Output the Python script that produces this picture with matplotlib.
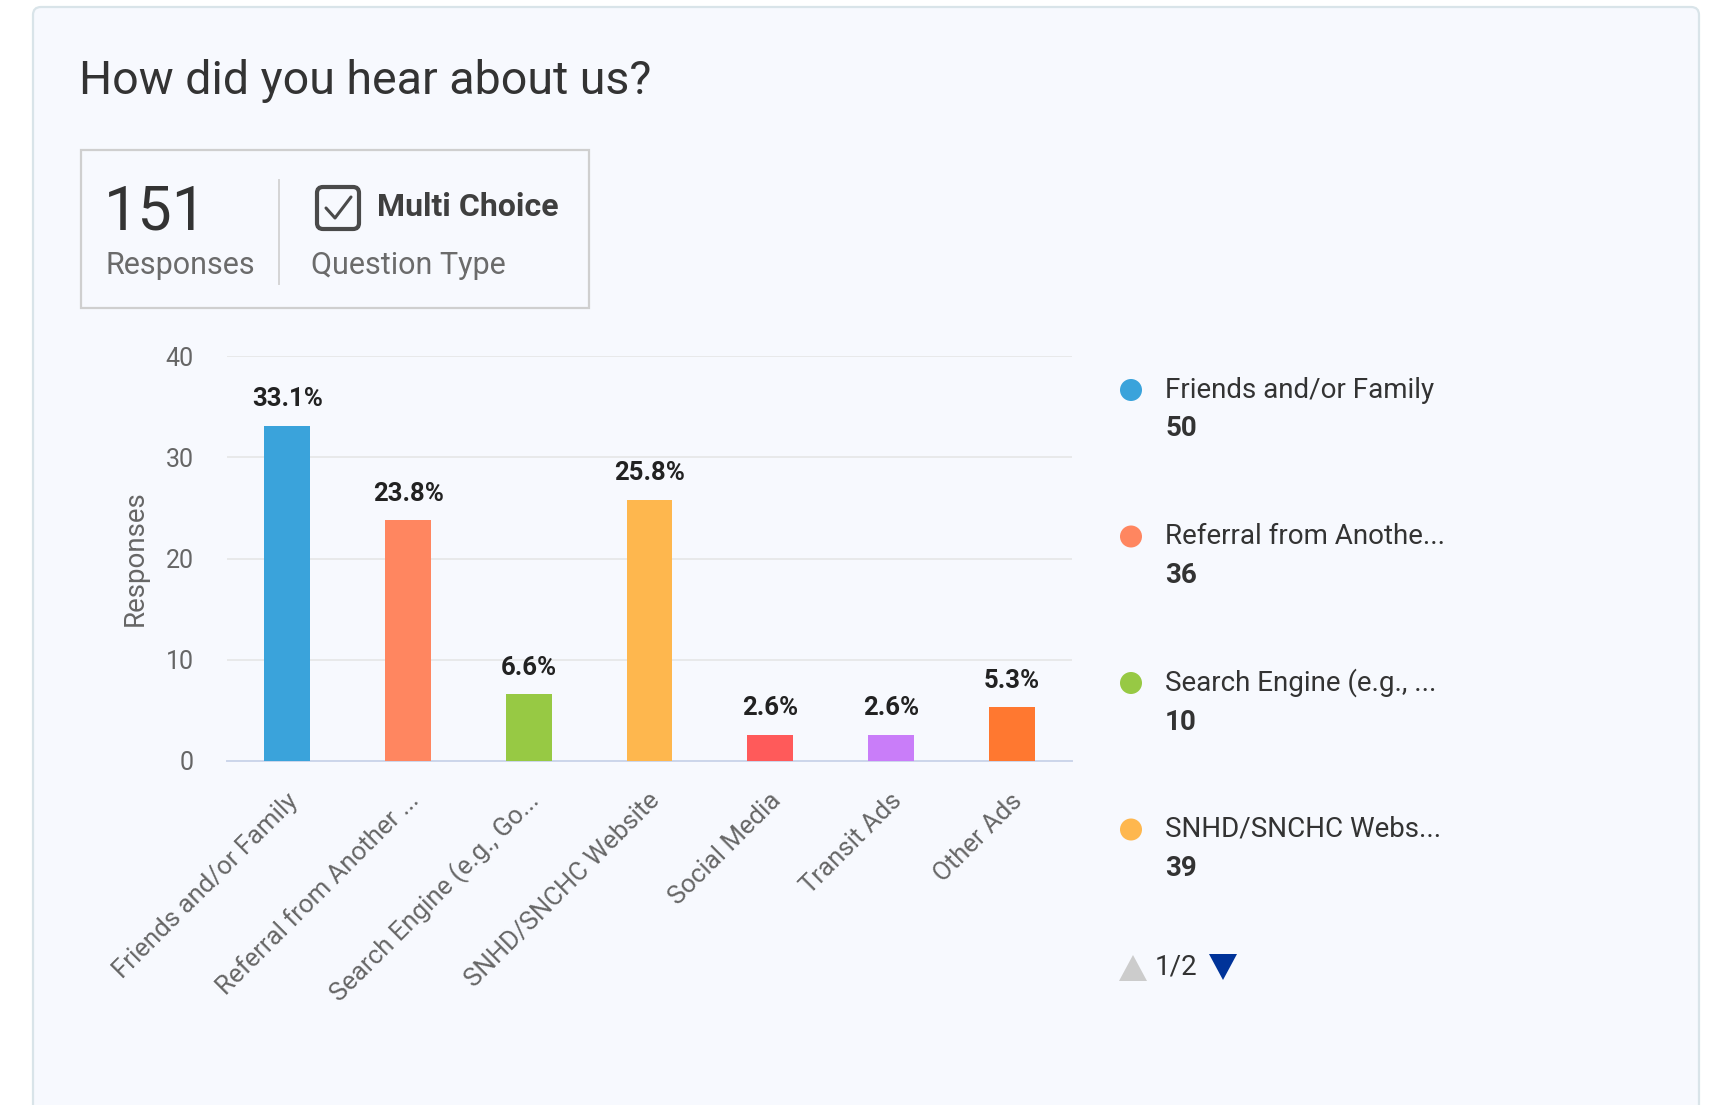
import matplotlib
matplotlib.use("Agg")
import matplotlib.pyplot as plt
import matplotlib.transforms as mtransforms
from matplotlib.patches import FancyBboxPatch, Rectangle, Polygon, Circle

plt.rcParams["font.family"] = ["Roboto", "DejaVu Sans"]

# survey results
categories = ["Friends and/or Family", "Referral from Another ...",
              "Search Engine (e.g., Go...", "SNHD/SNCHC Website",
              "Social Media", "Transit Ads", "Other Ads"]
percents = [33.1, 23.8, 6.6, 25.8, 2.6, 2.6, 5.3]
counts = [50, 36, 10, 39, 4, 4, 8]
legend_names = ["Friends and/or Family", "Referral from Anothe...",
                "Search Engine (e.g., ...", "SNHD/SNCHC Webs..."]
bar_colors = ["#3AA3DB", "#FF8660", "#97C944", "#FEB74E",
              "#FF5A5A", "#C97DF9", "#FF7830"]
total_responses = 151
y_ticks = [0, 10, 20, 30, 40]

W, H = 1710, 1105
fig = plt.figure(figsize=(W / 100, H / 100), dpi=100)
fig.patch.set_facecolor("white")

# full-figure overlay in pixel units (y down) for the card furniture
bg = fig.add_axes([0, 0, 1, 1], zorder=0)
bg.set_xlim(0, W)
bg.set_ylim(H, 0)
bg.axis("off")

card = FancyBboxPatch((33, 7), 1666, 1130, boxstyle="round,pad=0,rounding_size=8",
                      facecolor="#F7F9FE", edgecolor="#D9E4E9", linewidth=1.6)
bg.add_patch(card)

bg.text(79, 81, "How did you hear about us?", fontsize=33.5, color="#333333",
        va="center", ha="left")

# summary box
bg.add_patch(Rectangle((81, 150), 508, 158, facecolor="none",
                       edgecolor="#CFCFCF", linewidth=1.6))
bg.plot([279, 279], [180, 284], color="#D5D5D5", linewidth=1.4)
bg.text(104, 213, str(total_responses), fontsize=44, color="#333333",
        va="center", ha="left")
bg.text(105, 265, "Responses", fontsize=22, color="#6B6B6B",
        va="center", ha="left")
bg.add_patch(FancyBboxPatch((317, 187), 42, 42,
                            boxstyle="round,pad=0,rounding_size=6",
                            facecolor="none", edgecolor="#4A4A4A", linewidth=3))
bg.plot([326, 335, 351], [208, 218, 197], color="#4A4A4A", linewidth=2.2,
        solid_capstyle="round")
bg.text(377, 207, "Multi Choice", fontsize=23, fontweight="bold",
        color="#3F3F3F", va="center", ha="left")
bg.text(311, 265, "Question Type", fontsize=22, color="#6B6B6B",
        va="center", ha="left")

# bar chart
ax = fig.add_axes([227 / W, 1 - 761 / H, (1072 - 227) / W, (761 - 356) / H],
                  zorder=1)
ax.set_facecolor("none")
x = list(range(len(categories)))
ax.bar(x, percents, width=0.38, color=bar_colors, zorder=3)
for xi, p in zip(x, percents):
    ax.annotate(f"{p:.1f}%", (xi, p), xytext=(0, 14), textcoords="offset points",
                ha="center", va="baseline", fontsize=18.5, fontweight="bold",
                color="#222222")

ax.set_xlim(-0.5, len(categories) - 0.5)
ax.set_ylim(0, 40)
ax.set_yticks(y_ticks)
ax.grid(axis="y", color="#E6E6E6", linewidth=1.2, zorder=0)
for side in ["top", "right", "left"]:
    ax.spines[side].set_visible(False)
ax.spines["bottom"].set_color("#CCD6EB")
ax.spines["bottom"].set_linewidth(1.4)
ax.tick_params(axis="y", length=0, pad=24, labelsize=18, labelcolor="#666666")
ax.tick_params(axis="x", length=0, pad=26)
ax.set_xticks(x)
ax.set_xticklabels(categories, rotation=45, ha="right", va="center",
                   rotation_mode="anchor", fontsize=18.5, color="#666666")
# nudge the slanted labels a little to the right of their ticks
nudge = mtransforms.ScaledTranslation(5 / 72, 0, fig.dpi_scale_trans)
for lbl in ax.get_xticklabels():
    lbl.set_transform(lbl.get_transform() + nudge)
ax.set_ylabel("Responses", fontsize=20, color="#666666", labelpad=12)

# legend, first page of two
for i, (name, n) in enumerate(zip(legend_names, counts)):
    y = 390 + i * 146.5
    bg.add_patch(Circle((1131, y), 11, facecolor=bar_colors[i], edgecolor="none"))
    bg.text(1165, y, name, fontsize=20, color="#333333", va="center", ha="left")
    bg.text(1165, y + 39, str(n), fontsize=20, fontweight="bold",
            color="#333333", va="center", ha="left")

bg.add_patch(Polygon([[1119, 981], [1147, 981], [1133, 955]],
                     closed=True, facecolor="#CCCCCC", edgecolor="none"))
bg.text(1155, 967, "1/2", fontsize=20, color="#333333", va="center", ha="left")
bg.add_patch(Polygon([[1209, 954], [1237, 954], [1223, 980]],
                     closed=True, facecolor="#003399", edgecolor="none"))

fig.savefig("out.png", dpi=100, facecolor=fig.get_facecolor())
